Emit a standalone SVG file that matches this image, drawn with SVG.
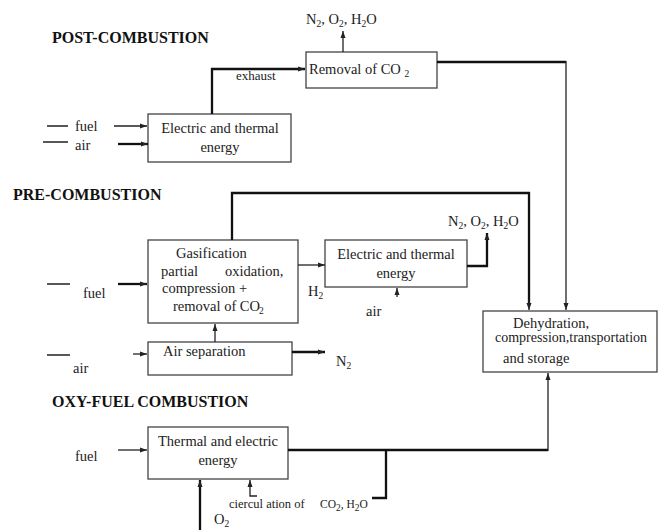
<svg xmlns="http://www.w3.org/2000/svg" width="659" height="530" viewBox="0 0 659 530">
<style>
text{font-family:"Liberation Serif","Times New Roman",serif;font-size:14.5px;fill:#222}
.t{font-weight:bold;font-size:16px;fill:#111}
.b{fill:#fff;stroke:#444;stroke-width:1.3}
.c{fill:none;stroke:#222;stroke-width:1.3}
.k{fill:none;stroke:#111;stroke-width:2.3}
.s{font-size:9.5px}
</style>
<defs>
<marker id="a" markerWidth="8" markerHeight="8" refX="7" refY="4" orient="auto" markerUnits="userSpaceOnUse">
<path d="M0,1.5 L7,4 L0,6.5 Z" fill="#222"/>
</marker>
</defs>
<rect width="659" height="530" fill="#fff"/>
<text class="t" x="52" y="43">POST-COMBUSTION</text>
<text class="t" x="13" y="200">PRE-COMBUSTION</text>
<text class="t" x="52" y="407">OXY-FUEL COMBUSTION</text>

<g id="removal">
<rect class="b" x="306" y="52" width="131" height="36"/>
<text x="309" y="74">Removal of  CO <tspan class="s" dy="3">2</tspan></text>
</g>
<g id="post-energy">
<rect class="b" x="148" y="114" width="143" height="48"/>
<text x="220" y="133" text-anchor="middle">Electric and thermal</text>
<text x="220" y="152" text-anchor="middle">energy</text>
</g>
<g id="gasification">
<rect class="b" x="148" y="240" width="150" height="83"/>
<text x="176" y="258">Gasification</text>
<text x="161" y="276">partial</text>
<text x="225" y="276">oxidation,</text>
<text x="162" y="293">compression   +</text>
<text x="173" y="311">removal of CO<tspan class="s" dy="3" dx="-1">2</tspan></text>
</g>
<g id="pre-energy">
<rect class="b" x="325" y="240" width="142" height="47"/>
<text x="396" y="259" text-anchor="middle">Electric and thermal</text>
<text x="396" y="278" text-anchor="middle">energy</text>
</g>
<g id="air-separation">
<rect class="b" x="148" y="342" width="144" height="33"/>
<text x="163" y="356">Air separation</text>
</g>
<g id="dehydration">
<rect class="b" x="483" y="311" width="174" height="61"/>
<text x="513" y="328">Dehydration,</text>
<text x="495" y="342" style="font-size:14px">compression,transportation</text>
<text x="503" y="363">and storage</text>
</g>
<g id="oxy-energy">
<rect class="b" x="148" y="427" width="140" height="52"/>
<text x="218" y="446" text-anchor="middle">Thermal and electric</text>
<text x="218" y="465" text-anchor="middle">energy</text>
</g>

<g id="labels">
<text x="306" y="24">N<tspan class="s" dy="3">2</tspan><tspan dy="-3">, O</tspan><tspan class="s" dy="3">2</tspan><tspan dy="-3">, H</tspan><tspan class="s" dy="3">2</tspan><tspan dy="-3">O</tspan></text>
<text x="236" y="80" style="font-size:13px">exhaust</text>
<text x="75" y="131">fuel</text>
<text x="75" y="150">air</text>
<text x="83" y="298">fuel</text>
<text x="73" y="373">air</text>
<text x="308" y="296">H<tspan class="s" dy="3">2</tspan></text>
<text x="366" y="316">air</text>
<text x="448" y="226">N<tspan class="s" dy="3">2</tspan><tspan dy="-3">, O</tspan><tspan class="s" dy="3">2</tspan><tspan dy="-3">, H</tspan><tspan class="s" dy="3">2</tspan><tspan dy="-3">O</tspan></text>
<text x="336" y="366">N<tspan class="s" dy="3">2</tspan></text>
<text x="75" y="461">fuel</text>
<text x="229" y="508" style="font-size:12.5px">ciercul ation of</text>
<text x="320" y="508" style="font-size:11.5px">CO<tspan class="s" dy="3">2</tspan><tspan dy="-3">, H</tspan><tspan class="s" dy="3">2</tspan><tspan dy="-3">O</tspan></text>
<text x="214" y="524">O<tspan class="s" dy="3">2</tspan></text>
</g>

<g id="connectors">
<path class="c" d="M47,126H68M43,142H68M47,284H70M47,355H70"/>
<path class="c" d="M114,126H147" marker-end="url(#a)"/>
<path class="k" d="M118,144H148" marker-end="url(#a)"/>
<path class="k" d="M212,114V69H305" marker-end="url(#a)"/>
<path class="c" d="M343,52V31" marker-end="url(#a)"/>
<path class="k" d="M437,62H566"/>
<path class="c" d="M566,61V310" marker-end="url(#a)"/>
<path class="k" d="M232,240V193H529V303"/>
<path class="c" d="M529,300V310" marker-end="url(#a)"/>
<path class="k" d="M118,284H147" marker-end="url(#a)"/>
<path class="c" d="M298,265H325" marker-end="url(#a)"/>
<path class="c" d="M397,297V288" marker-end="url(#a)"/>
<path class="k" d="M467,266H487V233" marker-end="url(#a)"/>
<path class="c" d="M215,342V324" marker-end="url(#a)"/>
<path class="c" d="M133,354H147" marker-end="url(#a)"/>
<path class="k" d="M292,352H325" marker-end="url(#a)"/>
<path class="c" d="M118,450H147" marker-end="url(#a)"/>
<path class="k" d="M288,450H548"/>
<path class="c" d="M548,451V373" marker-end="url(#a)"/>
<path class="k" d="M386,450V498H372"/>
<path class="c" d="M257,496H250V480" marker-end="url(#a)"/>
<path class="k" d="M200,530V480" marker-end="url(#a)"/>
</g>
</svg>
